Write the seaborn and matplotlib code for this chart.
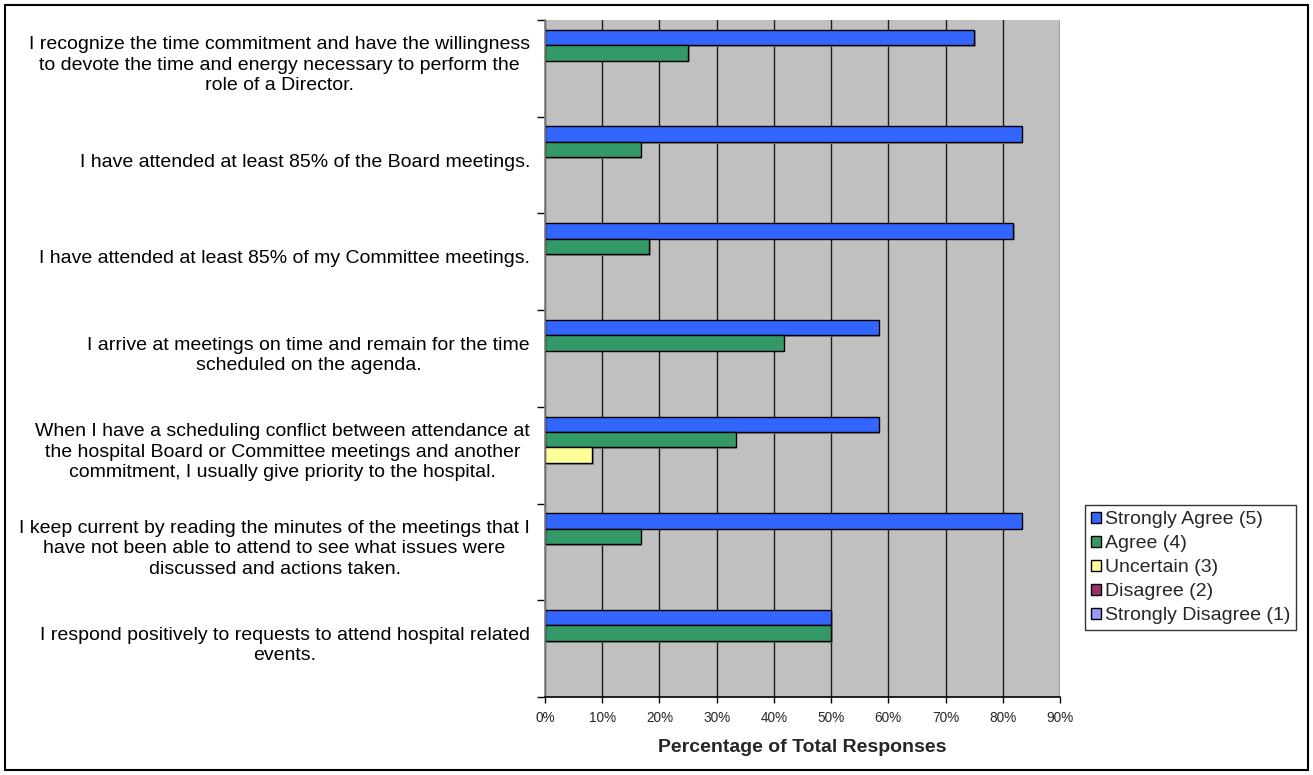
import numpy as np
import pandas as pd
import matplotlib
matplotlib.use("Agg")
import matplotlib.pyplot as plt
import matplotlib.patheffects as pe
from matplotlib.patches import Rectangle, Patch
from matplotlib.ticker import PercentFormatter, FixedLocator
import seaborn as sns

# ---- data -------------------------------------------------------------
statements = [
    "I recognize the time commitment and have the willingness\n"
    "to devote the time and energy necessary to perform the\n"
    "role of a Director.",
    "I have attended at least 85% of the Board meetings.",
    "I have attended at least 85% of my Committee meetings.",
    "I arrive at meetings on time and remain for the time\n"
    "scheduled on the agenda.",
    "When I have a scheduling conflict between attendance at\n"
    "the hospital Board or Committee meetings and another\n"
    "commitment, I usually give priority to the hospital.",
    "I keep current by reading the minutes of the meetings that I\n"
    "have not been able to attend to see what issues were\n"
    "discussed and actions taken.",
    "I respond positively to requests to attend hospital related\n"
    "events.",
]
responses = ["Strongly Agree (5)", "Agree (4)", "Uncertain (3)",
             "Disagree (2)", "Strongly Disagree (1)"]

strongly_agree = [75.0, 83.3, 81.8, 58.3, 58.3, 83.3, 50.0]
agree = [25.0, 16.7, 18.2, 41.7, 33.3, 16.7, 50.0]
uncertain = [0.0, 0.0, 0.0, 0.0, 8.3, 0.0, 0.0]
disagree = [0.0, 0.0, 0.0, 0.0, 0.0, 0.0, 0.0]
strongly_disagree = [0.0, 0.0, 0.0, 0.0, 0.0, 0.0, 0.0]

x_ticks = [0, 10, 20, 30, 40, 50, 60, 70, 80, 90]

# ---- styling ----------------------------------------------------------
palette = ["#3366FF", "#339966", "#FFFF99", "#993366", "#9999FF"]

series = [strongly_agree, agree, uncertain, disagree, strongly_disagree]
rows = []
for resp, vals in zip(responses, series):
    for stmt, v in zip(statements, vals):
        rows.append({"Statement": stmt, "Response": resp, "Percent": v})
df = pd.DataFrame(rows)

sns.set_theme(style="white")
plt.rcParams["font.family"] = ["Liberation Sans", "DejaVu Sans"]

fig = plt.figure(figsize=(13.13, 7.75), dpi=100)
W, H = 1313, 775
left, right, top, bottom = 545, 1060, 20, 697
ax = fig.add_axes([left / W, 1 - bottom / H, (right - left) / W, (bottom - top) / H])
ax.set_facecolor("#C0C0C0")

sns.barplot(data=df, y="Statement", x="Percent", hue="Response",
            order=statements, hue_order=responses, palette=palette,
            orient="h", width=0.8, edgecolor="black", linewidth=1.0,
            saturation=1.0, ax=ax, legend=False)

shadow = [pe.SimplePatchShadow(offset=(1.2, -1.2), shadow_rgbFace="#7a7a7a", alpha=0.8),
          pe.Normal()]
for bar in ax.patches:
    if bar.get_width() <= 0:
        bar.set_visible(False)
    else:
        bar.set_path_effects(shadow)

# axes / grid
ax.set_xlim(0, 90)
ax.set_ylim(len(statements) - 0.5, -0.5)
ax.xaxis.set_major_locator(FixedLocator(x_ticks))
ax.xaxis.set_major_formatter(PercentFormatter(xmax=100, decimals=0))
ax.grid(axis="x", color="#1a1a1a", linewidth=1.0)
ax.grid(axis="y", visible=False)
ax.set_axisbelow(True)
for s in ["top", "right"]:
    ax.spines[s].set_visible(False)
ax.spines["left"].set_color("#808080")
ax.spines["left"].set_linewidth(1.2)
ax.spines["bottom"].set_color("black")
ax.spines["bottom"].set_linewidth(1.2)

ax.tick_params(axis="x", which="major", bottom=True, length=4, width=1,
               color="black", labelsize=9.8, pad=6, direction="out")
ax.yaxis.set_major_locator(FixedLocator(np.arange(-0.5, len(statements), 1.0)))
ax.set_yticklabels([])
ax.tick_params(axis="y", which="major", left=True, length=6, width=1, color="black")
ax.set_ylabel("")
ax.set_xlabel("Percentage of Total Responses", fontsize=14, fontweight="bold",
              labelpad=10)

for i, stmt in enumerate(statements):
    ax.annotate(stmt, xy=(0, i), xycoords=("axes fraction", "data"),
                xytext=(-15, 3), textcoords="offset pixels",
                ha="right", va="center", multialignment="center",
                fontsize=14, linespacing=1.28, color="black")

# legend
handles = [Patch(facecolor=c, edgecolor="black", linewidth=1.0) for c in palette]
leg = fig.legend(handles, responses, loc="upper left",
                 bbox_to_anchor=(1085 / W, 1 - 505 / H),
                 frameon=True, fancybox=False, fontsize=14,
                 handlelength=0.5, handleheight=0.5, handletextpad=0.2,
                 labelspacing=0.36, borderpad=0.32, borderaxespad=0)
leg.get_frame().set_edgecolor("black")
leg.get_frame().set_linewidth(1.0)

# chart border
fig.patches.append(Rectangle((5 / W, 5 / H), 1 - 10 / W, 1 - 10 / H,
                             transform=fig.transFigure, fill=False,
                             edgecolor="black", linewidth=1.5))

fig.savefig("out.png", dpi=100, facecolor="white")
